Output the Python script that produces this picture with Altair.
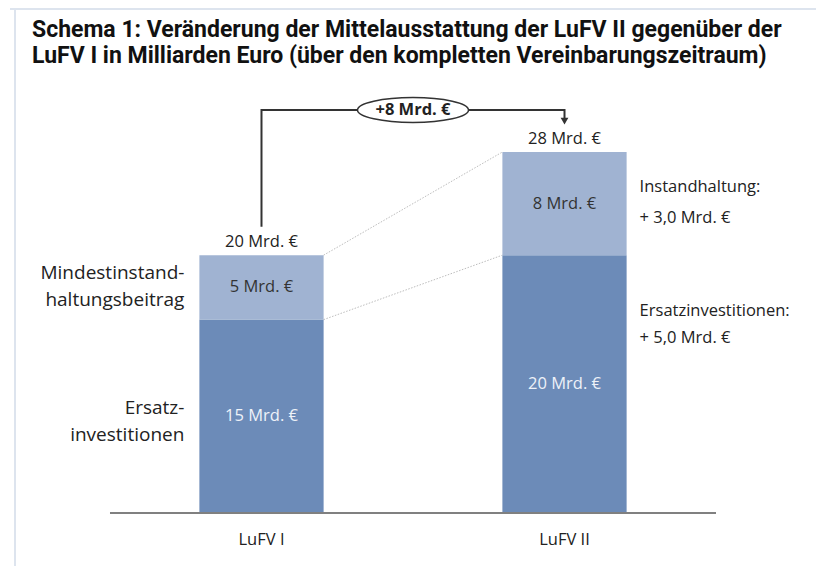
import altair as alt
import pandas as pd

# ---------------- data ----------------
categories = ["LuFV I", "LuFV II"]
cat_pos = [0, 1]
ersatz = [15, 20]
instand = [5, 8]
change_label = "+8 Mrd. €"

left_lines = ["Mindestinstand-", "haltungsbeitrag", "Ersatz-", "investitionen"]
left_line_y = [18.6, 16.5, 8.15, 6.05]
right_lines = ["Instandhaltung:", "+ 3,0 Mrd. €", "Ersatzinvestitionen:", "+ 5,0 Mrd. €"]
right_line_y = [25.3, 22.9, 15.7, 13.6]
title_lines = [
    "Schema 1: Veränderung der Mittelausstattung der LuFV II gegenüber der",
    "LuFV I in Milliarden Euro (über den kompletten Vereinbarungszeitraum)",
]

DARK = "#6c8bb8"
LIGHT = "#a0b3d2"
TXT = "#222222"
FONT = "Open Sans"
FS = 16.5
HALF = 0.205

xs = alt.Scale(domain=[-0.8366, 1.83], nice=False, zero=False)
ys = alt.Scale(domain=[-4.11, 39.17], nice=False, zero=False)

totals = [e + i for e, i in zip(ersatz, instand)]

# bars
bar_rows = []
for c, p, e, i in zip(categories, cat_pos, ersatz, instand):
    bar_rows.append(dict(cat=c, x0=p - HALF, x1=p + HALF, y0=0, y1=e, col=DARK,
                         mid=e / 2, lab=f"{e} Mrd. €", tcol="#eef2f8"))
    bar_rows.append(dict(cat=c, x0=p - HALF, x1=p + HALF, y0=e, y1=e + i, col=LIGHT,
                         mid=e + i / 2, lab=f"{i} Mrd. €", tcol="#333333"))
bars_df = pd.DataFrame(bar_rows)

bars = alt.Chart(bars_df).mark_rect().encode(
    x=alt.X("x0:Q", scale=xs, axis=None), x2="x1:Q",
    y=alt.Y("y0:Q", scale=ys, axis=None), y2="y1:Q",
    color=alt.Color("col:N", scale=None),
)
seg_text = alt.Chart(bars_df).mark_text(font=FONT, fontSize=FS, baseline="middle").encode(
    x=alt.X("x:Q", scale=xs, axis=None), y=alt.Y("mid:Q", scale=ys, axis=None),
    text="lab:N", color=alt.Color("tcol:N", scale=None),
).transform_calculate(x="(datum.x0 + datum.x1) / 2")

tot_df = pd.DataFrame(dict(x=cat_pos, y=totals, lab=[f"{t} Mrd. €" for t in totals]))
tot_text = alt.Chart(tot_df).mark_text(font=FONT, fontSize=FS, baseline="alphabetic", dy=-8, color=TXT).encode(
    x=alt.X("x:Q", scale=xs, axis=None), y=alt.Y("y:Q", scale=ys, axis=None), text="lab:N"
)

# connectors between bars
conn_rows = []
for k, (a, b) in enumerate([(totals[0], totals[1]), (ersatz[0], ersatz[1])]):
    conn_rows.append(dict(g=k, o=0, x=cat_pos[0] + HALF, y=a))
    conn_rows.append(dict(g=k, o=1, x=cat_pos[1] - HALF, y=b))
conn = alt.Chart(pd.DataFrame(conn_rows)).mark_line(color="#bdbdbd", strokeWidth=1, strokeDash=[1.5, 1.5]).encode(
    x=alt.X("x:Q", scale=xs, axis=None), y=alt.Y("y:Q", scale=ys, axis=None), detail="g:N", order="o:Q"
)

# baseline
base = alt.Chart(pd.DataFrame(dict(x=[-0.5], x2=[1.5], y=[0]))).mark_rule(color="#808080", strokeWidth=2).encode(
    x=alt.X("x:Q", scale=xs, axis=None), x2="x2:Q", y=alt.Y("y:Q", scale=ys, axis=None)
)

# category labels
cat_text = alt.Chart(pd.DataFrame(dict(x=cat_pos, y=[-2.09] * 2, lab=categories))).mark_text(
    font=FONT, fontSize=FS, baseline="middle", color=TXT
).encode(x=alt.X("x:Q", scale=xs, axis=None), y=alt.Y("y:Q", scale=ys, axis=None), text="lab:N")

# arrow
arrow_top = 31.26
arrow_df = pd.DataFrame(dict(o=[0, 1, 2, 3], x=[0, 0, 1, 1], y=[22.2, arrow_top, arrow_top, 30.6]))
arrow = alt.Chart(arrow_df).mark_line(color="#333333", strokeWidth=2).encode(
    x=alt.X("x:Q", scale=xs, axis=None), y=alt.Y("y:Q", scale=ys, axis=None), order="o:Q"
)
head = alt.Chart(pd.DataFrame(dict(x=[1], y=[30.4]))).mark_point(
    shape="triangle-down", filled=True, color="#333333", size=60, opacity=1
).encode(x=alt.X("x:Q", scale=xs, axis=None), y=alt.Y("y:Q", scale=ys, axis=None))
ell_df = pd.DataFrame(dict(x=[0.5], y=[arrow_top], lab=[change_label]))
ellipse = alt.Chart(ell_df).mark_point(
    shape="M -1 0 A 1 0.225 0 1 1 1 0 A 1 0.225 0 1 1 -1 0 Z",
    filled=True, fill="white", stroke="#333333", strokeWidth=1.5, size=111 * 111, opacity=1
).encode(x=alt.X("x:Q", scale=xs, axis=None), y=alt.Y("y:Q", scale=ys, axis=None))
ell_text = alt.Chart(ell_df).mark_text(font=FONT, fontSize=FS, fontWeight="bold", baseline="middle", color=TXT).encode(
    x=alt.X("x:Q", scale=xs, axis=None), y=alt.Y("y:Q", scale=ys, axis=None), text="lab:N"
)

# side labels
left_df = pd.DataFrame(dict(x=[cat_pos[0] - HALF] * 4, y=left_line_y, lab=left_lines))
left_text = alt.Chart(left_df).mark_text(font=FONT, fontSize=19, align="right", baseline="middle", dx=-15, color=TXT).encode(
    x=alt.X("x:Q", scale=xs, axis=None), y=alt.Y("y:Q", scale=ys, axis=None), text="lab:N"
)
right_df = pd.DataFrame(dict(x=[cat_pos[1] + HALF] * 4, y=right_line_y, lab=right_lines))
right_text = alt.Chart(right_df).mark_text(font=FONT, fontSize=FS, align="left", baseline="middle", dx=13, color=TXT).encode(
    x=alt.X("x:Q", scale=xs, axis=None), y=alt.Y("y:Q", scale=ys, axis=None), text="lab:N"
)

# frame lines
frame_v = alt.Chart(pd.DataFrame(dict(a=[0]))).mark_rule(color="#dde4ee", strokeWidth=2).encode(
    x=alt.value(7), y=alt.value(0), y2=alt.value(566)
)
frame_h = alt.Chart(pd.DataFrame(dict(a=[0]))).mark_rule(color="#dde4ee", strokeWidth=2).encode(
    x=alt.value(2), x2=alt.value(808), y=alt.value(1)
)

# title
t1 = alt.Chart(pd.DataFrame(dict(lab=[title_lines[0]]))).mark_text(
    font="Roboto", fontSize=23, fontWeight="bold", align="left", baseline="middle", color="#111111"
).encode(x=alt.value(24), y=alt.value(22), text="lab:N")
t2 = alt.Chart(pd.DataFrame(dict(lab=[title_lines[1]]))).mark_text(
    font="Roboto", fontSize=23, fontWeight="bold", align="left", baseline="middle", color="#111111"
).encode(x=alt.value(24), y=alt.value(47.5), text="lab:N")

chart = alt.layer(
    frame_v, frame_h, conn, bars, base, seg_text, tot_text, cat_text,
    arrow, head, ellipse, ell_text, left_text, right_text, t1, t2
).properties(
    width=808, height=558, padding=0, autosize=alt.AutoSizeParams(type="none")
).configure_view(stroke=None)

chart.save("out.html", embed_options={"renderer": "svg", "actions": False})
